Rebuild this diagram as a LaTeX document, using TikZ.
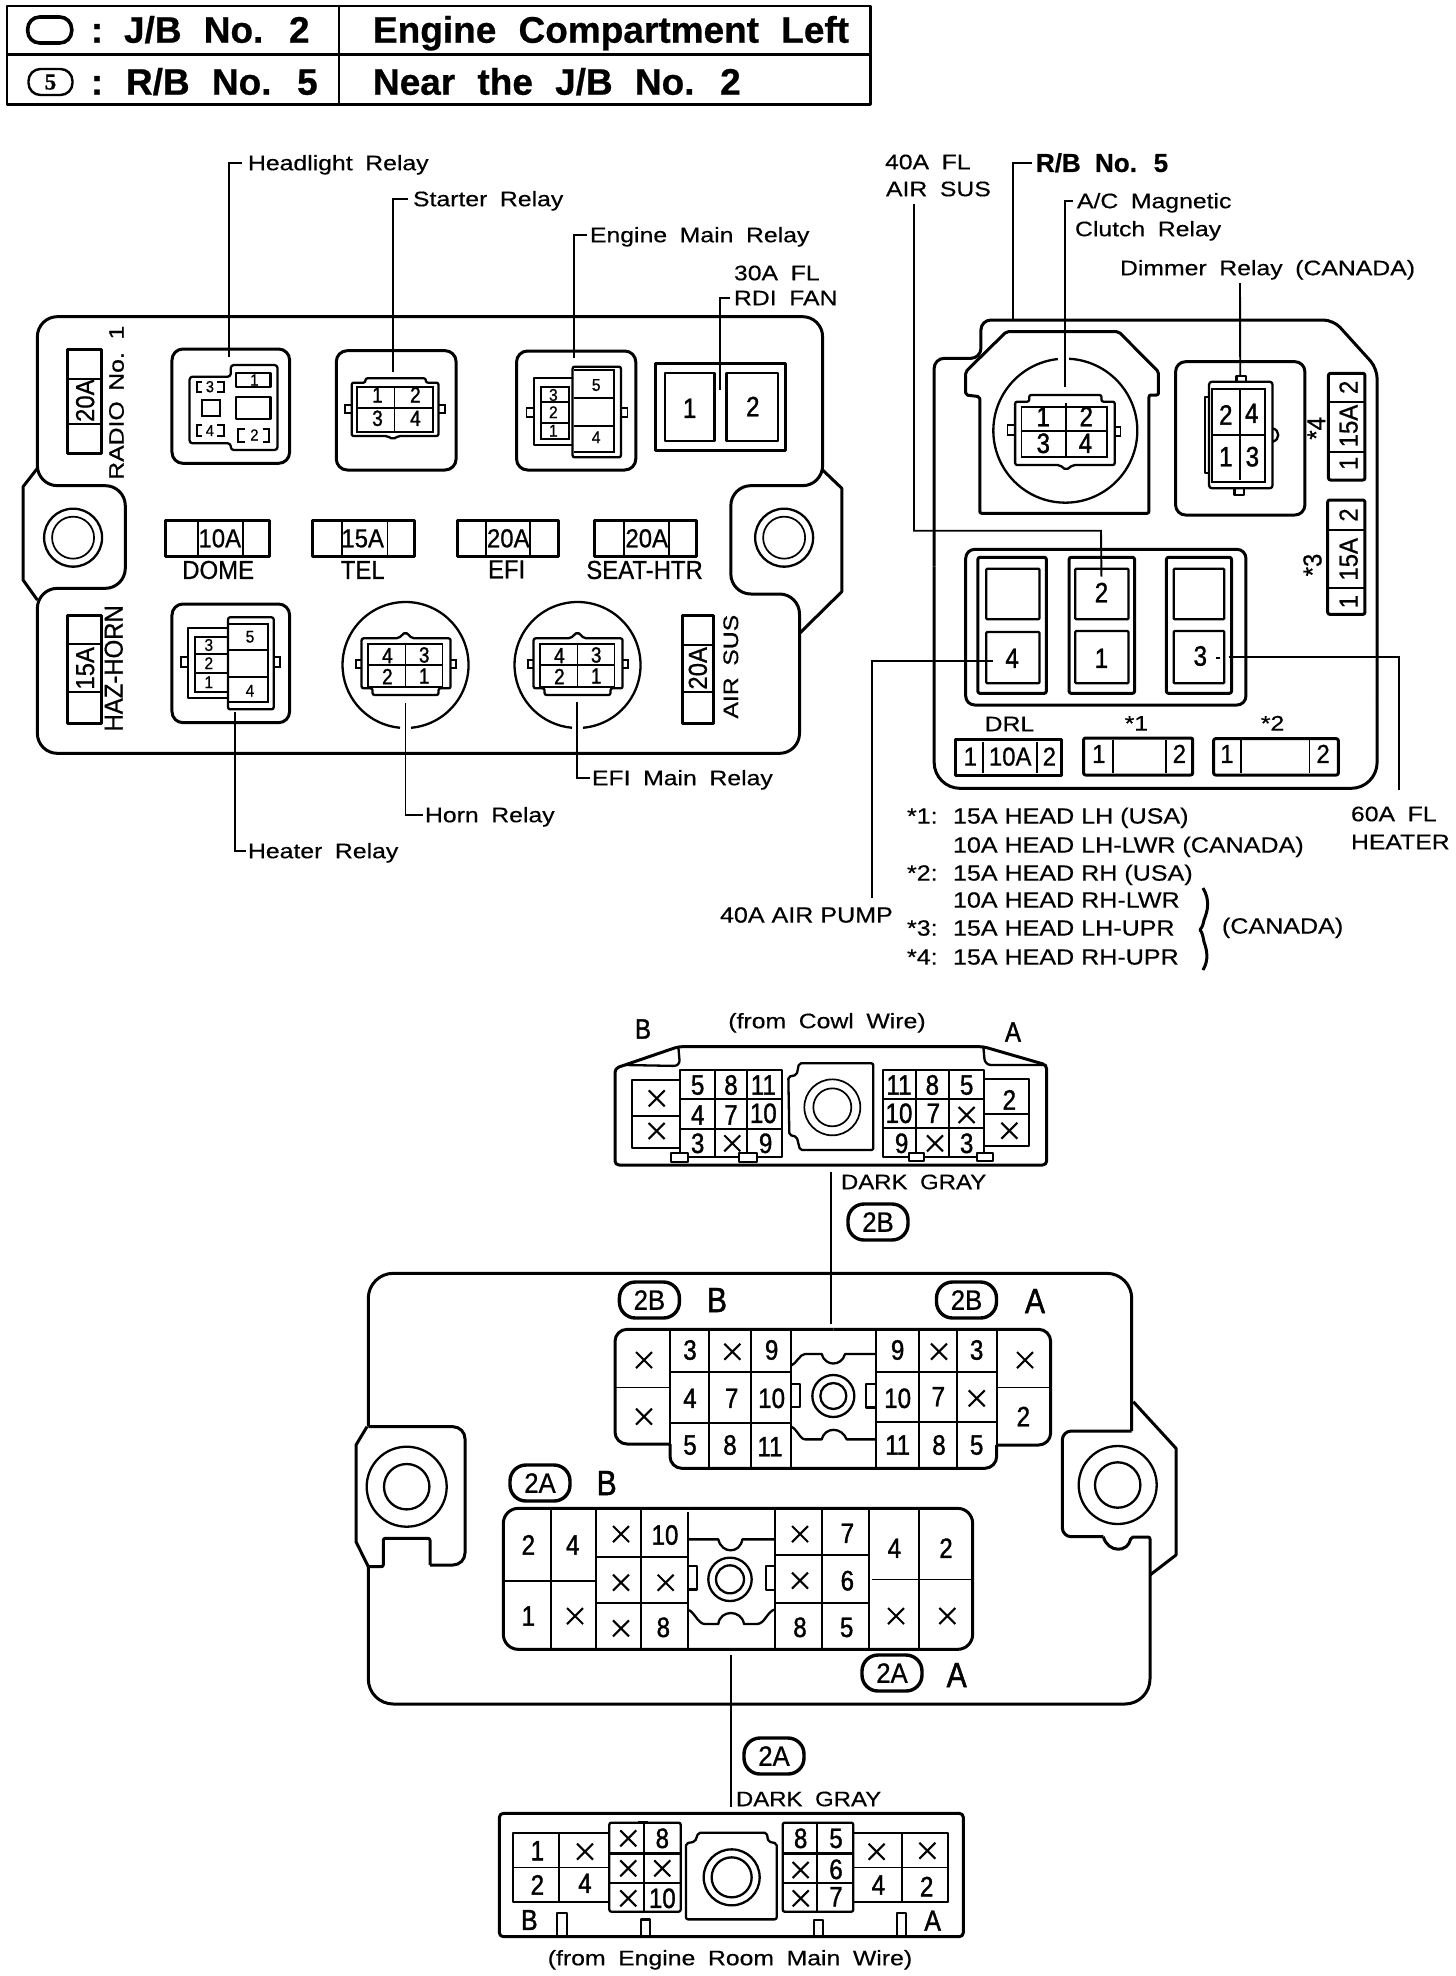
\documentclass[tikz,border=0pt]{standalone}
\usepackage{fontspec}
\usetikzlibrary{calc}
\setmainfont{Liberation Sans}
\newfontfamily\lfam[FakeStretch=1.18,FakeBold=0.4]{Liberation Sans}
\newfontfamily\nfam[FakeStretch=1.14,FakeBold=0.4]{Liberation Sans}
\newfontfamily\dfam[FakeBold=1.3,FakeStretch=0.86]{Liberation Sans}
\newfontfamily\ffam[FakeBold=0.7,FakeStretch=0.92]{Liberation Sans}
\newfontfamily\sfam[FakeBold=0.8]{Liberation Serif}
\newfontfamily\bfam[FakeBold=0.6]{Liberation Sans Bold}
\newcounter{tn}
\newcommand\cb[1]{\vphantom{H}\smash{#1}}
\newcommand\tx[3][]{\stepcounter{tn}\node[lb,#1] (t\arabic{tn}) at (#2) {\cb{#3}};}
\newcommand\Xm[1]{\draw[xmk] (#1) ++(-8pt,-8pt) -- ++(16pt,16pt) ++(-16pt,0pt) -- ++(16pt,-16pt);}
\newcommand\wsa{\spaceskip .6em\relax}
\newcommand\wsb{\spaceskip .5em\relax}
\newcommand\wsc{\spaceskip .55em\relax}
\tikzset{
  thk/.style={line width=3pt,line join=round},
  med/.style={line width=2.3pt,line join=round},
  thn/.style={line width=1.7pt},
  ldr/.style={line width=1.9pt},
  xmk/.style={line width=2.1pt},
  lb/.style={inner sep=0pt,outer sep=0pt,anchor=center},
  topf/.style={font=\bfam\fontsize{37}{37}\selectfont\wsa},
  lab/.style={font=\lfam\fontsize{21}{21}\selectfont\wsa},
  not/.style={font=\nfam\fontsize{22}{22}\selectfont},
  fus/.style={font=\ffam\fontsize{26}{26}\selectfont},
  dgs/.style={font=\dfam\fontsize{22}{22}\selectfont},
  dgb/.style={font=\dfam\fontsize{28}{28}\selectfont},
  ltr/.style={font=\dfam\fontsize{35}{35}\selectfont},
  ovl/.style={draw,line width=3.4pt,rounded corners=16pt,minimum width=60pt,minimum height=36pt,inner sep=0pt,font=\ffam\fontsize{28}{28}\selectfont},
  Za/.style={x=0.5495pt,y=-0.33333pt,shift={(0pt,-280pt)}},
  Zb/.style={x=0.38023pt,y=-0.33333pt,shift={(860pt,-300pt)}},
  Zt/.style 2 args={x=0.33333pt,y=-0.33333pt,shift={(#1pt,-#2pt)}},
}
\begin{document}
\begin{tikzpicture}[x=1pt,y=-1pt]
\fill[white] (0,0) rectangle (1456,1976);
\useasboundingbox (0,0) rectangle (1456,1976);

% ---------- legend table
\draw[med] (7,6) rectangle (870.5,104.5) (7,54.5) -- (870.5,54.5) (339,6) -- (339,104.5);
\node[ovl,line width=3.6pt,minimum width=44pt,minimum height=26pt,rounded corners=12pt] (oLeg) at (49.7,30) {};
\node[ovl,line width=2.4pt,minimum width=44pt,minimum height=26pt,rounded corners=12pt,font=\sfam\bfseries\fontsize{23}{23}\selectfont] (oLegB) at (50.5,82) {5};
\tx[topf]{97,30}{:}
\tx[topf]{97,82}{:}
\tx[topf,anchor=west]{124,30}{J/B No. 2}
\tx[topf,anchor=west]{126,82}{R/B No. 5}
\tx[topf,anchor=west]{373,30}{Engine Compartment Left}
\tx[topf,anchor=west]{373,82}{Near the J/B No. 2}

% ---------- J/B No.2 upper left block
\node[lb,lab,anchor=west] (LHead) at (248,163) {\cb{Headlight Relay}};
\node[lb,lab,anchor=west] (LStart) at (413,199) {\cb{Starter Relay}};
\node[lb,lab,anchor=west] (LEng) at (590,235) {\cb{Engine Main Relay}};
\tx[lab,anchor=west]{734,273}{30A FL}
\node[lb,lab,anchor=west] (LRdi) at (734,298) {\cb{RDI FAN}};
\node[lb,lab,anchor=west] (LHeat) at (248,851) {\cb{Heater Relay}};
\node[lb,lab,anchor=west] (LHorn) at (425,815) {\cb{Horn Relay}};
\node[lb,lab,anchor=west] (LEfi) at (592,778) {\cb{EFI Main Relay}};

\begin{scope}[Za]
\coordinate (EHead) at (416,232);
\coordinate (EStart) at (716,275);
\coordinate (EEng) at (1045,235);
\coordinate (ERdi) at (1310,330);
\coordinate (EHeat) at (427,1295);
\coordinate (EHorn) at (738,1270);
\coordinate (EEfi) at (1050,1265);
\draw[thk,rounded corners=20pt] (700,110) -- (1497,110) -- (1497,617) -- (1330,617) -- (1330,942) -- (1455,942) -- (1455,1420) -- (68,1420) -- (68,925) -- (228,925) -- (228,617) -- (68,617) -- (68,110) -- (700,110);
\draw[thk] (68,565) -- (42,620) -- (42,900) -- (68,960);
\draw[thk] (1497,570) -- (1532,625) -- (1532,935) -- (1455,1060);
\foreach \c in {133,1427}{\draw[med] (\c,773) circle[radius=29pt]; \draw[thn] (\c,773) circle[radius=21pt];}
% radio fuse
\draw[thk] (123,207) rectangle (185,520); \draw[thn] (123,297) -- (185,297) (123,432) -- (185,432);
\tx[fus,rotate=90]{155,362}{20A}
\tx[rotate=90,font=\lfam\fontsize{21}{21}\selectfont\wsb]{212,368}{RADIO No. 1}
% headlight relay
\draw[thk,rounded corners=11pt] (313,207) rectangle (527,550);
\draw[med,rounded corners=3pt] (345,290) -- (420,290) -- (420,255) -- (505,255) -- (505,510) -- (420,510) -- (420,490) -- (345,490) -- cycle;
\draw[med] (430,278) rectangle (492,322) (430,350) rectangle (492,418);
\draw[thn] (368,360) rectangle (400,408);
\draw[thn] (368,305) -- (358,305) -- (358,335) -- (368,335) (395,305) -- (408,305) -- (408,335) -- (395,335);
\draw[thn] (368,435) -- (358,435) -- (358,468) -- (368,468) (395,435) -- (408,435) -- (408,468) -- (395,468);
\draw[thn] (445,447) -- (433,447) -- (433,485) -- (445,485) (478,447) -- (490,447) -- (490,485) -- (478,485);
\tx[font=\ffam\fontsize{16}{16}\selectfont]{382,320}{3}
\tx[font=\ffam\fontsize{16}{16}\selectfont]{382,452}{4}
\tx[font=\ffam\fontsize{16}{16}\selectfont]{463,300}{1}
\tx[font=\ffam\fontsize{16}{16}\selectfont]{463,465}{2}
% starter relay
\draw[thk,rounded corners=11pt] (612,212) rectangle (830,570);
\draw[med,rounded corners=2pt] (640,308) -- (665,308) -- (665,295) -- (775,295) -- (775,308) -- (798,308) -- (798,468) -- (725,468) -- (715,478) -- (705,468) -- (640,468) -- cycle;
\draw[thn] (650,320) rectangle (788,455) (718,320) -- (718,455) (650,385) -- (788,385);
\draw[thn] (640,375) -- (628,375) -- (628,400) -- (640,400) (798,375) -- (810,375) -- (810,400) -- (798,400);
\tx[dgs]{687,345}{1}\tx[dgs]{756,345}{2}\tx[dgs]{687,415}{3}\tx[dgs]{756,415}{4}
% engine main relay
\draw[thk,rounded corners=11pt] (940,213) rectangle (1157,570);
\draw[med] (1042,295) -- (972,295) -- (972,495) -- (1042,495);
\draw[med,rounded corners=2pt] (1042,260) -- (1130,260) -- (1130,532) -- (1042,532) -- cycle;
\draw[thn] (985,320) rectangle (1035,478) (985,367) -- (1035,367) (985,428) -- (1035,428);
\draw[thn] (1045,270) -- (1118,270) -- (1118,515) -- (1045,515) (1045,355) -- (1118,355) (1045,437) -- (1118,437);
\draw[thn] (972,385) -- (958,385) -- (958,410) -- (972,410) (1130,385) -- (1142,385) -- (1142,410) -- (1130,410);
\foreach \d/\y in {3/345,2/397,1/452}{\tx[font=\ffam\fontsize{17}{17}\selectfont]{1007,\y}{\d}}
\foreach \d/\y in {5/315,4/472}{\tx[font=\ffam\fontsize{17}{17}\selectfont]{1085,\y}{\d}}
% rdi fan
\draw[thk] (1192,250) rectangle (1430,510);
\draw[med] (1210,280) rectangle (1300,482) (1322,280) rectangle (1416,482);
\tx[dgb]{1255,385}{1}\tx[dgb]{1370,380}{2}
% mid fuses
\draw[thk] (302,722) rectangle (490,828); \draw[thn] (360,722) -- (360,828) (442,722) -- (442,828);
\draw[thk] (568,722) rectangle (755,828); \draw[thn] (622,722) -- (622,828) (705,722) -- (705,828);
\draw[thk] (833,722) rectangle (1017,828); \draw[thn] (885,722) -- (885,828) (965,722) -- (965,828);
\draw[thk] (1082,722) rectangle (1268,828); \draw[thn] (1135,722) -- (1135,828) (1217,722) -- (1217,828);
\tx[fus]{400,775}{10A}\tx[fus]{660,775}{15A}\tx[fus]{925,775}{20A}\tx[fus]{1177,775}{20A}
\tx[fus]{397,870}{DOME}\tx[fus]{660,870}{TEL}\tx[fus]{922,868}{EFI}\tx[fus]{1173,870}{SEAT-HTR}
% haz-horn fuse
\draw[thk] (122,1005) rectangle (185,1330); \draw[thn] (122,1093) -- (185,1093) (122,1235) -- (185,1235);
\tx[fus,rotate=90]{155,1165}{15A}
\tx[fus,rotate=90]{207,1165}{HAZ-HORN}
% heater relay
\draw[thk,rounded corners=11pt] (313,972) rectangle (527,1328);
\draw[med] (415,1045) -- (342,1045) -- (342,1255) -- (415,1255);
\draw[med,rounded corners=2pt] (415,1012) -- (498,1012) -- (498,1288) -- (415,1288) -- cycle;
\draw[thn] (355,1070) rectangle (415,1235) (355,1122) -- (415,1122) (355,1180) -- (415,1180);
\draw[thn] (417,1033) -- (488,1033) -- (488,1265) -- (417,1265) (417,1110) -- (488,1110) (417,1190) -- (488,1190);
\draw[thn] (342,1130) -- (330,1130) -- (330,1160) -- (342,1160) (498,1130) -- (510,1130) -- (510,1160) -- (498,1160);
\foreach \d/\y in {3/1095,2/1150,1/1207}{\tx[font=\ffam\fontsize{17}{17}\selectfont]{380,\y}{\d}}
\foreach \d/\y in {5/1070,4/1232}{\tx[font=\ffam\fontsize{17}{17}\selectfont]{455,\y}{\d}}
% horn + EFI relays
\foreach \sh in {0pt,172pt}{
\begin{scope}[xshift=\sh]
\draw[med] ($(738,1155)+(-85:63pt)$) arc[start angle=-85,end angle=265,radius=63pt];
\draw[med,rounded corners=2pt] (658,1075) -- (725,1075) -- (738,1056) -- (750,1075) -- (820,1075) -- (820,1225) -- (798,1225) -- (798,1245) -- (678,1245) -- (678,1225) -- (658,1225) -- cycle;
\draw[thn] (670,1093) rectangle (805,1220) (738,1093) -- (738,1220) (670,1155) -- (805,1155);
\draw[thn] (658,1140) -- (648,1140) -- (648,1165) -- (658,1165) (820,1140) -- (830,1140) -- (830,1165) -- (820,1165);
\tx[dgs]{705,1127}{4}\tx[dgs]{772,1125}{3}\tx[dgs]{705,1190}{2}\tx[dgs]{772,1188}{1}
\end{scope}}
% air sus fuse
\draw[thk] (1242,1005) rectangle (1298,1330); \draw[thn] (1242,1095) -- (1298,1095) (1242,1235) -- (1298,1235);
\tx[fus,rotate=90]{1270,1165}{20A}
\tx[rotate=90,font=\lfam\fontsize{21}{21}\selectfont\wsc]{1330,1160}{AIR SUS}
\end{scope}
\draw[ldr] ([xshift=-6pt]LHead.west) -| (EHead);
\draw[ldr] ([xshift=-5pt]LStart.west) -| (EStart);
\draw[ldr] ([xshift=-3pt]LEng.west) -| (EEng);
\draw[ldr] ([xshift=-4pt]LRdi.west) -| (ERdi);
\draw[ldr] ([xshift=-2pt]LHeat.west) -| (EHeat);
\draw[ldr] ([xshift=-2pt]LHorn.west) -| (EHorn);
\draw[ldr] ([xshift=-2pt]LEfi.west) -| (EEfi);

% ---------- R/B No.5
\tx[lab,anchor=west]{885,162}{40A FL}
\tx[lab,anchor=west]{886,189}{AIR SUS}
\node[lb,font=\bfam\fontsize{26}{26}\selectfont\wsc,anchor=west] (LRb) at (1036,163) {\cb{R/B No. 5}};
\node[lb,lab,anchor=west] (LAc) at (1077,201) {\cb{A/C Magnetic}};
\tx[lab,anchor=west]{1075,229}{Clutch Relay}
\node[lb,lab,anchor=west] (LDim) at (1120,268) {\cb{Dimmer Relay (CANADA)}};
\tx[lab,anchor=west]{1351,814}{60A FL}
\tx[lab,anchor=west]{1351,842}{HEATER}
\node[lb,not,anchor=west] (LPump) at (720,915) {\cb{40A AIR PUMP}};
\coordinate (S40) at (914,204);
\coordinate (K40) at (1101,530.7);
\coordinate (S60) at (1399,790);
\coordinate (SDim) at (1240,283);
\coordinate (SPump) at (872,898);

\begin{scope}[Zb]
\coordinate (ERb) at (403,58);
\coordinate (EAc) at (538,260);
\coordinate (EDim) at (1000,228);
\coordinate (E40) at (635,830);
\coordinate (E4) at (350,1082);
\coordinate (E3) at (970,1072);
\draw[thk,rounded corners=10pt] (195,800) -- (195,175) -- (318,175) -- (318,60) -- (1245,60) -- (1360,205) -- (1360,1200);
\draw[thk,rounded corners=26pt] (1360,1200) -- (1360,1465) -- (195,1465) -- (195,800);
\draw[thk,rounded corners=2pt] (315,640) -- (760,640) -- (760,285) -- (785,285) -- (785,215) -- (680,95) -- (385,95) -- (278,215) -- (278,285) -- (315,290) -- cycle;
\draw[med] ($(540,392)+(87:72pt)$) arc[start angle=87,end angle=-264,radius=72pt];
\draw[med,rounded corners=2pt] (408,305) -- (445,305) -- (445,285) -- (635,285) -- (635,305) -- (670,305) -- (670,495) -- (560,495) -- (542,510) -- (525,495) -- (408,495) -- cycle;
\draw[thn] (425,322) rectangle (650,470) (542,308) -- (542,470) (425,392) -- (650,392);
\draw[thn] (408,375) -- (388,375) -- (388,405) -- (408,405) (670,380) -- (685,380) -- (685,408) -- (670,408);
\tx[dgb]{482,350}{1}\tx[dgb]{595,350}{2}\tx[dgb]{482,430}{3}\tx[dgb]{593,430}{4}
% dimmer
\draw[thk,rounded corners=10pt] (830,185) rectangle (1170,645);
\draw[med,rounded corners=3pt] (918,245) rectangle (1085,565);
\draw[thn] (925,268) rectangle (1065,545) (1000,268) -- (1000,540) (925,405) -- (1065,405);
\draw[med] (918,292) -- (908,292) -- (908,518) -- (918,518);
\draw[med] (990,245) -- (990,228) -- (1015,228) -- (1015,245) (985,565) -- (985,585) -- (1010,585) -- (1010,565);
\draw[med] (1085,385) .. controls (1105,390) and (1105,420) .. (1085,425);
\tx[dgb]{962,345}{2}\tx[dgb]{1030,340}{4}\tx[dgb]{962,470}{1}\tx[dgb]{1032,470}{3}
% *4, *3
\draw[thk,rounded corners=2pt] (1232,220) rectangle (1328,540); \draw[thn] (1232,305) -- (1328,305) (1232,455) -- (1328,455);
\draw[thk,rounded corners=2pt] (1230,600) rectangle (1328,943); \draw[thn] (1230,690) -- (1328,690) (1230,865) -- (1328,865);
\foreach \t/\y in {2/262,15A/378,1/490,2/645,15A/778,1/905}{\tx[fus,rotate=90]{1285,\y}{\t}}
\tx[fus,rotate=90]{1200,385}{*4}
\tx[fus,rotate=90]{1190,795}{*3}
% relay block
\draw[thk,rounded corners=9pt] (278,748) rectangle (1015,1215);
\draw[thk,rounded corners=2pt] (310,772) rectangle (490,1180) (550,772) rectangle (722,1180) (806,772) rectangle (977,1180);
\draw[med,rounded corners=1pt] (332,806) rectangle (472,958) (332,996) rectangle (472,1150) (566,806) rectangle (706,958) (566,993) rectangle (706,1150) (825,806) rectangle (958,958) (825,993) rectangle (958,1150);
\tx[dgb]{635,878}{2}\tx[dgb]{400,1075}{4}\tx[dgb]{635,1075}{1}\tx[dgb]{895,1068}{3}
\draw[thn] (937,1073) -- (948,1073);
% bottom fuses
\draw[thk] (252,1318) rectangle (530,1425); \draw[thn] (323,1325) -- (323,1418) (465,1325) -- (465,1418);
\draw[thk,rounded corners=2pt] (588,1314) rectangle (875,1425); \draw[thn] (665,1320) -- (665,1420) (805,1320) -- (805,1420);
\draw[thk,rounded corners=2pt] (930,1316) rectangle (1258,1425); \draw[thn] (1002,1320) -- (1002,1420) (1182,1320) -- (1182,1420);
\tx[fus]{290,1370}{1}\tx[fus]{395,1370}{10A}\tx[fus]{498,1370}{2}
\tx[fus]{628,1362}{1}\tx[fus]{840,1362}{2}\tx[fus]{965,1362}{1}\tx[fus]{1218,1362}{2}
\tx[lab]{393,1272}{DRL}\tx[lab]{727,1270}{*1}\tx[lab]{1085,1270}{*2}
\end{scope}
\draw[ldr] ([xshift=-4pt]LRb.west) -| (ERb);
\draw[ldr] ([xshift=-4pt]LAc.west) -| (EAc);
\draw[ldr] (SDim) -- (EDim);
\draw[ldr] (S40) |- (K40) -- (E40);
\draw[ldr] (SPump) |- (E4);
\draw[ldr] (S60) |- (E3);

% notes
\tx[not,anchor=west]{907,816}{*1:}
\tx[not,anchor=west]{953,816}{15A HEAD LH (USA)}
\tx[not,anchor=west]{953,845}{10A HEAD LH-LWR (CANADA)}
\tx[not,anchor=west]{907,873}{*2:}
\tx[not,anchor=west]{953,873}{15A HEAD RH (USA)}
\tx[not,anchor=west]{953,900}{10A HEAD RH-LWR}
\tx[not,anchor=west]{907,928}{*3:}
\tx[not,anchor=west]{953,928}{15A HEAD LH-UPR}
\tx[not,anchor=west]{907,957}{*4:}
\tx[not,anchor=west]{953,957}{15A HEAD RH-UPR}
\tx[not,anchor=west]{1222,926}{(CANADA)}
\draw[thk] (1203,888) .. controls (1210,900) and (1208,910) .. (1204,920) .. controls (1203,925) and (1202,928) .. (1200,930) .. controls (1202,932) and (1203,936) .. (1204,942) .. controls (1207,950) and (1209,960) .. (1203,970);

% ---------- cowl wire connector
\node[lb,lab] (LCowl) at (827,1021) {\cb{(from Cowl Wire)}};
\tx[font=\dfam\fontsize{28}{28}\selectfont]{643,1029}{B}
\tx[font=\dfam\fontsize{28}{28}\selectfont]{1013,1032}{A}
\node[lb,anchor=west,font=\nfam\fontsize{21}{21}\selectfont\wsa] (LGry1) at (841,1182) {\cb{DARK GRAY}};
\node[ovl] (o2B) at (878,1222) {2B};
\begin{scope}[Zt={600}{1000}]
\coordinate (TopA) at (692,515);
\draw[thk,rounded corners=4pt] (45,205) -- (235,140) -- (1150,140) -- (1340,195) -- (1340,495) -- (45,495) -- cycle;
\draw[med,rounded corners=6pt] (235,140) -- (240,198) -- (75,195);
\draw[med,rounded corners=6pt] (1150,140) -- (1155,195) -- (1340,195);
\draw[med] (240,240) -- (95,240) -- (95,443) -- (240,443);
\draw[thn] (95,347) -- (240,347);
\Xm{170,295}\Xm{170,393}
\draw[med] (240,210) rectangle (545,470);
\draw[thn] (345,210) -- (345,470) (442,210) -- (442,470) (240,298) -- (545,298);
\draw[med] (240,388) -- (545,388);
\tx[dgb]{293,255}{5}\tx[dgb]{393,255}{8}\tx[dgb]{490,255}{11}
\tx[dgb]{293,345}{4}\tx[dgb]{393,345}{7}\tx[dgb]{490,340}{10}
\tx[dgb]{293,430}{3}\Xm{397,430}\tx[dgb]{497,430}{9}
\draw[med,fill=white] (213,460) rectangle (265,485) (417,460) rectangle (470,485);
\draw[med,rounded corners=2pt] (565,230) -- (590,225) -- (597,190) -- (820,190) -- (820,450) -- (600,450) -- (590,410) -- (568,405) -- cycle;
\draw[thn] (697,322) circle[radius=28pt] (697,322) circle[radius=19pt];
\draw[med] (848,210) rectangle (1152,470);
\draw[thn] (947,210) -- (947,470) (1048,210) -- (1048,470) (848,298) -- (1152,298) (848,385) -- (1152,385);
\tx[dgb]{897,255}{11}\tx[dgb]{997,255}{8}\tx[dgb]{1100,255}{5}
\tx[dgb]{897,340}{10}\tx[dgb]{1000,340}{7}\Xm{1100,345}
\tx[dgb]{905,430}{9}\Xm{1005,430}\tx[dgb]{1100,430}{3}
\draw[med] (1152,237) -- (1288,237) -- (1288,438) -- (1152,438);
\draw[thn] (1152,342) -- (1288,342);
\tx[dgb]{1228,300}{2}\Xm{1228,392}
\draw[med,fill=white] (928,458) rectangle (972,482) (1132,458) rectangle (1178,482);
\end{scope}

% ---------- J/B No.2 lower housing
\draw[thk,rounded corners=25pt] (368.3,1426.7) -- (368.3,1273.3) -- (1131.7,1273.3) -- (1131.7,1431);
\draw[thk,rounded corners=9pt] (1131.7,1431) -- (1062.3,1431) -- (1062.3,1536.7) -- (1103.3,1536.7);
\draw[thk,rounded corners=2pt] (1103.3,1536.7) .. controls (1108,1553) and (1128,1553) .. (1131,1537) -- (1150,1537) -- (1150,1650);
\draw[thk,rounded corners=25pt] (1150,1650) -- (1150,1704) -- (368.3,1704) -- (368.3,1566.7);
\draw[thk,rounded corners=2pt] (368.3,1566.7) -- (383.3,1566.7) -- (383.3,1538.3) -- (430,1538.3) -- (430,1565);
\draw[thk,rounded corners=12pt] (430,1565) -- (465,1565) -- (465,1426.7) -- (368.3,1426.7);
\draw[thk] (367,1426.7) -- (356,1445) -- (356,1541.7) -- (368.3,1566.7);
\draw[thk] (1133.3,1401.7) -- (1176,1448.3) -- (1176,1555) -- (1150,1575);
\draw[med] (406.7,1486.7) circle[radius=40pt]; \draw[med] (406.7,1486.7) circle[radius=22.7pt];
\draw[med] (1117.7,1485) circle[radius=39pt]; \draw[med] (1117.7,1485) circle[radius=22.7pt];
\node[ovl] (o2Bl) at (649.4,1300) {2B};
\tx[ltr]{717,1300}{B}
\node[ovl] (o2Br) at (966.5,1300) {2B};
\tx[ltr]{1035,1301}{A}
\node[ovl] (o2Al) at (540,1483) {2A};
\tx[ltr]{606.7,1483}{B}
\node[ovl] (o2Ar) at (892,1673) {2A};
\tx[ltr]{956.7,1675}{A}

\begin{scope}[Zt={600}{1300}]
\coordinate (TopB) at (692,72);
\draw[thk,rounded corners=12pt] (700,88) -- (1352,88) -- (1352,435) -- (1190,435);
\draw[thk,rounded corners=12pt] (1190,435) -- (1190,505) -- (210,505) -- (210,432);
\draw[thk,rounded corners=12pt] (210,432) -- (45,432) -- (45,88) -- (700,88);
\draw[med] (210,88) -- (210,432) (573,88) -- (573,505) (828,88) -- (828,505) (1190,88) -- (1190,435);
\draw[thn] (328,88) -- (328,505) (453,88) -- (453,505) (957,88) -- (957,505) (1072,88) -- (1072,505);
\draw[thn] (210,215) -- (573,215) (210,368) -- (573,368) (828,215) -- (1190,215) (828,366) -- (1190,366) (45,262) -- (210,262) (1190,262) -- (1352,262);
\tx[dgb]{270,150}{3}\Xm{397,155}\tx[dgb]{515,150}{9}
\tx[dgb]{270,295}{4}\tx[dgb]{395,295}{7}\tx[dgb]{515,295}{10}
\tx[dgb]{270,435}{5}\tx[dgb]{390,435}{8}\tx[dgb]{510,440}{11}
\Xm{132,180}\Xm{132,350}
\tx[dgb]{893,150}{9}\Xm{1017,155}\tx[dgb]{1130,150}{3}
\tx[dgb]{893,295}{10}\tx[dgb]{1015,290}{7}\Xm{1130,295}
\tx[dgb]{893,435}{11}\tx[dgb]{1017,435}{8}\tx[dgb]{1130,435}{5}
\Xm{1275,180}\tx[dgb]{1270,350}{2}
\draw[med] (573,197) .. controls (590,190) and (600,162) .. (615,162) -- (665,162) .. controls (675,200) and (725,200) .. (735,162) -- (828,162);
\draw[med] (573,380) .. controls (590,385) and (600,418) .. (615,418) -- (665,418) .. controls (675,380) and (725,380) .. (740,418) -- (828,418);
\draw[med] (700,288) circle[radius=21pt] (700,288) circle[radius=13pt];
\draw[med] (573,252) -- (600,252) -- (600,320) -- (573,320) (828,252) -- (798,252) -- (798,322) -- (828,322);
\end{scope}
\draw[ldr] (TopA) -- (TopB);

\begin{scope}[Zt={490}{1490}]
\coordinate (BotA) at (722,495);
\draw[thk,rounded corners=15pt] (40,55) rectangle (1448,478);
\draw[med] (593,65) -- (593,478) (1138,55) -- (1138,478);
\draw[thn] (182,55) -- (182,478) (318,55) -- (318,478) (453,55) -- (453,478) (855,55) -- (855,478) (997,55) -- (997,478) (1288,55) -- (1288,478);
\draw[thn] (40,272) -- (318,272) (318,200) -- (593,200) (318,338) -- (593,338) (855,338) -- (1138,338) (1145,268) -- (1448,268);
\draw[med] (855,195) -- (1138,195);
\tx[dgb]{115,165}{2}\tx[dgb]{248,165}{4}\tx[dgb]{115,378}{1}\Xm{255,378}
\Xm{393,132}\tx[dgb]{525,135}{10}\Xm{393,278}\Xm{527,278}\Xm{393,415}\tx[dgb]{520,412}{8}
\Xm{930,132}\tx[dgb]{1072,130}{7}\Xm{930,272}\tx[dgb]{1072,272}{6}\tx[dgb]{930,412}{8}\tx[dgb]{1070,412}{5}
\tx[dgb]{1213,175}{4}\tx[dgb]{1368,175}{2}\Xm{1218,378}\Xm{1372,378}
\draw[med] (597,148) -- (685,148) .. controls (695,192) and (750,192) .. (757,148) -- (855,148);
\draw[med] (597,360) .. controls (615,370) and (625,402) .. (645,402) -- (685,402) .. controls (690,358) and (755,358) .. (762,402) -- (800,402) .. controls (825,402) and (830,365) .. (855,358);
\draw[med] (720,268) circle[radius=21.7pt] (720,268) circle[radius=14pt];
\draw[med] (597,228) -- (622,228) -- (622,298) -- (597,298) (855,228) -- (828,228) -- (828,300) -- (855,300);
\end{scope}

% ---------- engine room main wire connector
\node[ovl] (o2Ab) at (774,1756) {2A};
\node[lb,anchor=west,font=\nfam\fontsize{21}{21}\selectfont\wsa] (LGry2) at (736,1799) {\cb{DARK GRAY}};
\node[lb,lab] (LMain) at (730,1958) {\cb{(from Engine Room Main Wire)}};
\begin{scope}[Zt={490}{1790}]
\coordinate (BotB) at (722,50);
\draw[thk,rounded corners=4pt] (28,70) rectangle (1420,440);
\draw[med] (358,128) -- (68,128) -- (68,335) -- (358,335);
\draw[med] (208,128) -- (208,335);
\draw[thn] (68,232) -- (358,232);
\tx[dgb]{142,182}{1}\Xm{285,185}\tx[dgb]{142,285}{2}\tx[dgb]{285,280}{4}
\draw[med,rounded corners=2pt] (358,98) rectangle (572,365);
\draw[med] (462,98) -- (462,365) (358,190) -- (572,190) (358,278) -- (572,278) (445,95) -- (475,95);
\Xm{415,145}\tx[dgb]{517,145}{8}\Xm{415,235}\Xm{517,235}\Xm{415,325}\tx[dgb]{517,325}{10}
\draw[med,rounded corners=2pt] (588,160) -- (615,155) -- (625,128) -- (830,128) -- (835,155) -- (860,160) -- (860,388) -- (588,388) -- cycle;
\draw[med] (725,262) circle[radius=28pt] (725,262) circle[radius=20pt];
\draw[med,rounded corners=2pt] (878,98) rectangle (1090,365);
\draw[med] (982,98) -- (982,365) (878,190) -- (1090,190) (878,278) -- (1090,278);
\tx[dgb]{932,145}{8}\tx[dgb]{1038,145}{5}\Xm{932,240}\tx[dgb]{1038,238}{6}\Xm{932,325}\tx[dgb]{1038,320}{7}
\draw[med] (1090,128) -- (1375,128) -- (1375,335) -- (1090,335);
\draw[med] (1235,128) -- (1235,335);
\draw[thn] (1090,232) -- (1375,232);
\Xm{1160,185}\Xm{1312,182}\tx[dgb]{1165,285}{4}\tx[dgb]{1310,290}{2}
\tx[font=\dfam\fontsize{29}{29}\selectfont]{118,390}{B}
\tx[font=\dfam\fontsize{29}{29}\selectfont]{1328,392}{A}
\draw[med] (200,438) -- (200,368) -- (232,368) -- (232,438) (452,438) -- (452,388) -- (480,388) -- (480,438) (972,438) -- (972,390) -- (998,390) -- (998,438) (1222,438) -- (1222,368) -- (1248,368) -- (1248,438);
\end{scope}
\draw[ldr] (BotA) -- (BotB);
\end{tikzpicture}
\end{document}
